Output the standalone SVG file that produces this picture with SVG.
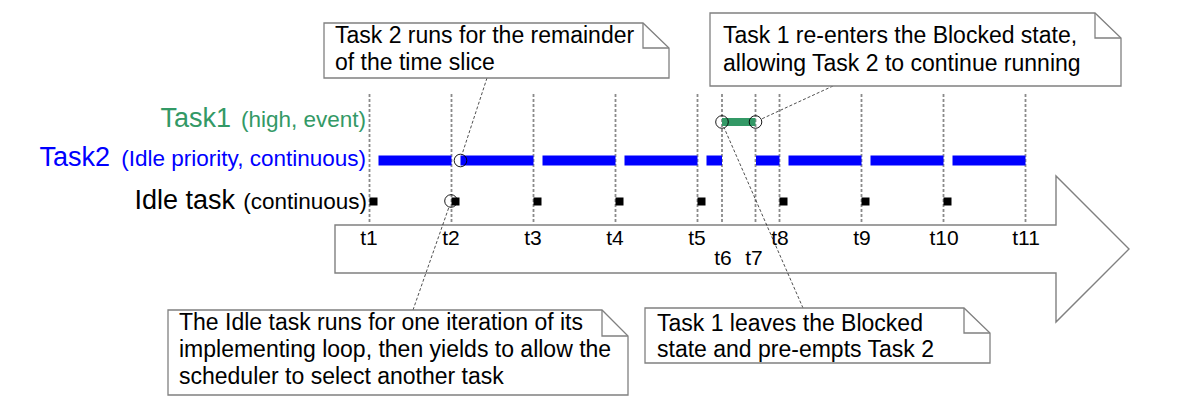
<svg xmlns="http://www.w3.org/2000/svg" width="1204" height="416" viewBox="0 0 1204 416">
<style>
text{font-family:"Liberation Sans",Arial,sans-serif}
.note{fill:#fff;stroke:#808080;stroke-width:1.3}
.fold{fill:none;stroke:#808080;stroke-width:1.3}
.nt{font-size:23px;fill:#000}
.tl{font-size:21px;fill:#000;text-anchor:middle}
.grid{stroke:#8a8a8a;stroke-width:1.8;stroke-dasharray:3 2;fill:none}
.conn{stroke:#222;stroke-width:0.8;stroke-dasharray:3 2;fill:none}
.blue{fill:#0000ff}
.idle{fill:#000}
.mark{fill:none;stroke:#000;stroke-width:0.9}
.big{font-size:27px;text-anchor:end}
.small{font-size:22.5px;text-anchor:end}
</style>
<rect width="1204" height="416" fill="#fff"/>
<g id="time-arrow">
<path d="M335,225 H1056 V176 L1129,249 L1056,322 V273 H335 Z" fill="#fff" stroke="#808080" stroke-width="1.4"/>
</g>
<g id="grid">
<line class="grid" x1="369.5" y1="94" x2="369.5" y2="224"/>
<line class="grid" x1="451.5" y1="94" x2="451.5" y2="224"/>
<line class="grid" x1="533.5" y1="94" x2="533.5" y2="224"/>
<line class="grid" x1="615.5" y1="94" x2="615.5" y2="224"/>
<line class="grid" x1="697.5" y1="94" x2="697.5" y2="224"/>
<line class="grid" x1="722" y1="94" x2="722" y2="224"/>
<line class="grid" x1="755.5" y1="94" x2="755.5" y2="224"/>
<line class="grid" x1="779.5" y1="94" x2="779.5" y2="224"/>
<line class="grid" x1="861.5" y1="94" x2="861.5" y2="224"/>
<line class="grid" x1="943.5" y1="94" x2="943.5" y2="224"/>
<line class="grid" x1="1025.5" y1="94" x2="1025.5" y2="224"/>
</g>
<g id="time-labels">
<text class="tl" x="369" y="245">t1</text>
<text class="tl" x="451" y="245">t2</text>
<text class="tl" x="533" y="245">t3</text>
<text class="tl" x="615" y="245">t4</text>
<text class="tl" x="697" y="245">t5</text>
<text class="tl" x="723" y="265">t6</text>
<text class="tl" x="754" y="265">t7</text>
<text class="tl" x="780" y="245">t8</text>
<text class="tl" x="862" y="245">t9</text>
<text class="tl" x="944" y="245">t10</text>
<text class="tl" x="1026" y="245">t11</text>
</g>
<g id="row-labels">
<text class="big" x="231" y="127" fill="#339966">Task1</text>
<text class="small" x="366" y="127" fill="#339966">(high, event)</text>
<text class="big" x="110" y="166" fill="#0000ff">Task2</text>
<text class="small" x="366" y="166" fill="#0000ff">(Idle priority, continuous)</text>
<text class="big" x="235" y="209" fill="#000">Idle task</text>
<text class="small" x="367" y="209" fill="#000">(continuous)</text>
</g>
<g id="task1-bar">
<rect x="722" y="118" width="33.5" height="8" fill="#339966"/>
</g>
<g id="task2-bars">
<rect class="blue" x="378.5" y="155.5" width="73" height="10"/>
<rect class="blue" x="460.5" y="155.5" width="73" height="10"/>
<rect class="blue" x="542.5" y="155.5" width="73" height="10"/>
<rect class="blue" x="624.5" y="155.5" width="73" height="10"/>
<rect class="blue" x="706.5" y="155.5" width="15.5" height="10"/>
<rect class="blue" x="756" y="155.5" width="23.5" height="10"/>
<rect class="blue" x="788.5" y="155.5" width="73" height="10"/>
<rect class="blue" x="870.5" y="155.5" width="73" height="10"/>
<rect class="blue" x="952.5" y="155.5" width="73" height="10"/>
</g>
<g id="idle-ticks">
<rect class="idle" x="369.5" y="197.5" width="8" height="8"/>
<rect class="idle" x="451.5" y="197.5" width="8" height="8"/>
<rect class="idle" x="533.5" y="197.5" width="8" height="8"/>
<rect class="idle" x="615.5" y="197.5" width="8" height="8"/>
<rect class="idle" x="697.5" y="197.5" width="8" height="8"/>
<rect class="idle" x="779.5" y="197.5" width="8" height="8"/>
<rect class="idle" x="861.5" y="197.5" width="8" height="8"/>
<rect class="idle" x="943.5" y="197.5" width="8" height="8"/>
</g>
<g id="markers">
<circle class="mark" cx="460.5" cy="160.5" r="6.3"/>
<circle class="mark" cx="451" cy="201" r="6.3"/>
<circle class="mark" cx="722" cy="122" r="6.3"/>
<circle class="mark" cx="755.5" cy="122" r="6.3"/>
</g>
<g id="connectors">
<line class="conn" x1="487" y1="78" x2="462" y2="154.5"/>
<line class="conn" x1="413" y1="310" x2="449" y2="207"/>
<line class="conn" x1="833" y1="86" x2="761.5" y2="119"/>
<line class="conn" x1="803" y1="308" x2="724" y2="127.5"/>
</g>
<g id="note-task2-remainder">
<path class="note" d="M324,23 H643 L669,48 V78 H324 Z"/>
<path class="fold" d="M643,23 V48 H669"/>
<text class="nt" x="335" y="43">Task 2 runs for the remainder</text>
<text class="nt" x="335" y="70">of the time slice</text>
</g>
<g id="note-task1-reenters">
<path class="note" d="M710,13 H1095 L1121,38 V86 H710 Z"/>
<path class="fold" d="M1095,13 V38 H1121"/>
<text class="nt" x="723" y="43">Task 1 re-enters the Blocked state,</text>
<text class="nt" x="723" y="71">allowing Task 2 to continue running</text>
</g>
<g id="note-idle-task">
<path class="note" d="M168,310 H602 L628,336 V395 H168 Z"/>
<path class="fold" d="M602,310 V336 H628"/>
<text class="nt" x="179" y="330">The Idle task runs for one iteration of its</text>
<text class="nt" x="179" y="357">implementing loop, then yields to allow the</text>
<text class="nt" x="179" y="384">scheduler to select another task</text>
</g>
<g id="note-task1-leaves">
<path class="note" d="M645,308 H964 L990,333 V363 H645 Z"/>
<path class="fold" d="M964,308 V333 H990"/>
<text class="nt" x="657" y="331">Task 1 leaves the Blocked</text>
<text class="nt" x="657" y="357">state and pre-empts Task 2</text>
</g>
</svg>
